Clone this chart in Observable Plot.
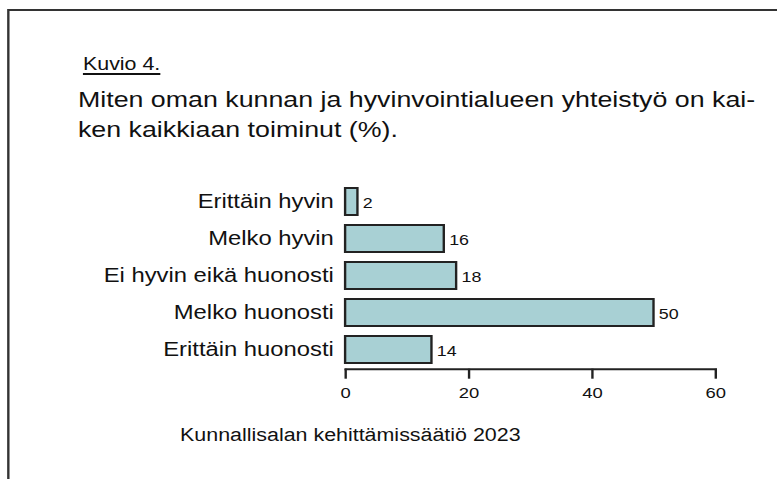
<!DOCTYPE html>
<html><head><meta charset="utf-8">
<script src="https://cdn.jsdelivr.net/npm/d3@7"></script>
<script src="https://cdn.jsdelivr.net/npm/@observablehq/plot@0.6"></script>
<style>
html,body{margin:0;padding:0;width:777px;height:479px;overflow:hidden;background:#fff;}
#stage{position:absolute;left:0;top:0;width:653px;height:479px;transform:scaleX(1.19);transform-origin:0 0;font-family:"Liberation Sans",Arial,sans-serif;color:#111;}
#border{position:absolute;left:5.6px;top:9px;width:1000px;height:1000px;border:2px solid #333;box-sizing:border-box;}
#kuvio{position:absolute;left:69.7px;top:54.75px;font-size:18px;line-height:18px;text-decoration:underline;text-decoration-thickness:1.5px;text-underline-offset:3px;white-space:nowrap;}
#title{position:absolute;left:65.5px;top:85px;font-size:22.5px;line-height:30px;white-space:nowrap;}
#caption{position:absolute;left:151.3px;top:425.75px;font-size:18px;line-height:18px;white-space:nowrap;}
#chart{position:absolute;left:0;top:0;}
</style></head>
<body>
<div id="stage">
  <div id="border"></div>
  <div id="kuvio"></div>
  <div id="title"></div>
  <div id="chart"></div>
  <div id="caption"></div>
</div>
<script>
const figureLabel = "Kuvio 4.";
const titleLines = ["Miten oman kunnan ja hyvinvointialueen yhteistyö on kai-", "ken kaikkiaan toiminut (%)."];
const captionText = "Kunnallisalan kehittämissäätiö 2023";
const categories = ["Erittäin hyvin", "Melko hyvin", "Ei hyvin eikä huonosti", "Melko huonosti", "Erittäin huonosti"];
const values = [2, 16, 18, 50, 14];
const xTicks = [0, 20, 40, 60];

document.getElementById("kuvio").textContent = figureLabel;
document.getElementById("title").innerHTML = titleLines.map(t => t.replace(/&/g,"&amp;")).join("<br>");
document.getElementById("caption").textContent = captionText;

const data = categories.map((c, i) => ({cat: c, value: values[i]}));

const chart = Plot.plot({
  width: 653,
  height: 479,
  marginLeft: 290,
  marginRight: 52,
  marginTop: 182.7,
  marginBottom: 110.3,
  x: {domain: [0, 60], label: null},
  y: {domain: categories, paddingInner: 0.28, paddingOuter: 0.1, label: null},
  style: {fontFamily: '"Liberation Sans", Arial, sans-serif', color: "#111", background: "transparent", overflow: "visible"},
  marks: [
    Plot.barX(data, {x: "value", y: "cat", fill: "#a8d0d4", stroke: "#222", strokeWidth: 2}),
    Plot.text(data, {x: "value", y: "cat", text: d => String(d.value), textAnchor: "start", dx: 4, dy: 1, fontSize: 15, fill: "#111"}),
    Plot.axisX({ticks: xTicks, tickSize: 10, tickPadding: 8, fontSize: 15.5, stroke: "#222", strokeWidth: 2, label: null}),
    Plot.axisY({tickSize: 0, tickPadding: 10, fontSize: 20, label: null}),
    Plot.frame({anchor: "bottom", stroke: "#222", strokeWidth: 2})
  ]
});
document.getElementById("chart").appendChild(chart);
</script>
</body></html>
